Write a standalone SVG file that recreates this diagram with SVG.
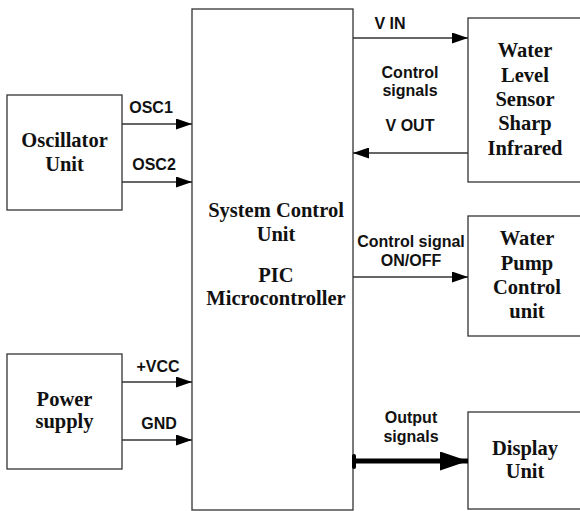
<svg xmlns="http://www.w3.org/2000/svg" width="580" height="511" viewBox="0 0 580 511">
<defs>
<style>
.box{fill:#fff;stroke:#333;stroke-width:1.3}
.ln{stroke:#333;stroke-width:1.3;fill:none}
.nt{font-family:"Liberation Serif","Times New Roman",serif;font-weight:bold;font-size:20.5px;fill:#111;text-anchor:middle}
.lb{font-family:"Liberation Sans",Arial,sans-serif;font-weight:bold;font-size:16px;fill:#111;text-anchor:middle}
</style>
<marker id="ah" markerUnits="userSpaceOnUse" markerWidth="16" markerHeight="11" refX="16" refY="5.5" orient="auto">
<path d="M0,0 L16,5.5 L0,11 z" fill="#000"/>
</marker>
<marker id="ahb" markerUnits="userSpaceOnUse" markerWidth="28" markerHeight="19" refX="28" refY="9.5" orient="auto">
<path d="M0,0 L28,9.5 L0,19 z" fill="#000"/>
</marker>
</defs>
<rect width="580" height="511" fill="#fff"/>

<g id="main">
<rect class="box" x="192" y="9" width="161" height="501"/>
<text class="nt" x="276" y="217">System Control</text>
<text class="nt" x="276" y="241">Unit</text>
<text class="nt" x="276" y="282">PIC</text>
<text class="nt" x="276" y="305">Microcontroller</text>
</g>

<g id="oscillator">
<rect class="box" x="7" y="95" width="115" height="115"/>
<text class="nt" x="64.5" y="147">Oscillator</text>
<text class="nt" x="64.5" y="171">Unit</text>
</g>

<g id="power">
<rect class="box" x="7" y="354" width="115" height="115"/>
<text class="nt" x="64.5" y="406">Power</text>
<text class="nt" x="64.5" y="428">supply</text>
</g>

<g id="sensor">
<rect class="box" x="468" y="18" width="130" height="164"/>
<text class="nt" x="525" y="57">Water</text>
<text class="nt" x="525" y="82">Level</text>
<text class="nt" x="525" y="106">Sensor</text>
<text class="nt" x="525" y="130">Sharp</text>
<text class="nt" x="525" y="155">Infrared</text>
</g>

<g id="pump">
<rect class="box" x="468" y="216" width="130" height="120"/>
<text class="nt" x="527" y="245">Water</text>
<text class="nt" x="527" y="270">Pump</text>
<text class="nt" x="527" y="294">Control</text>
<text class="nt" x="527" y="318">unit</text>
</g>

<g id="display">
<rect class="box" x="468" y="412" width="130" height="97"/>
<text class="nt" x="525" y="455">Display</text>
<text class="nt" x="525" y="478">Unit</text>
</g>

<g id="connectors">
<line class="ln" x1="122" y1="124" x2="192" y2="124" marker-end="url(#ah)"/>
<line class="ln" x1="122" y1="182" x2="192" y2="182" marker-end="url(#ah)"/>
<line class="ln" x1="122" y1="382" x2="192" y2="382" marker-end="url(#ah)"/>
<line class="ln" x1="122" y1="440" x2="192" y2="440" marker-end="url(#ah)"/>
<line class="ln" x1="353" y1="38" x2="468" y2="38" marker-end="url(#ah)"/>
<line class="ln" x1="468" y1="153" x2="353" y2="153" marker-end="url(#ah)"/>
<line class="ln" x1="353" y1="277" x2="468" y2="277" marker-end="url(#ah)"/>
<line x1="354" y1="456" x2="354" y2="467" stroke="#000" stroke-width="4" stroke-linecap="round"/>
<line x1="354" y1="461" x2="468" y2="461" stroke="#000" stroke-width="5" marker-end="url(#ahb)"/>
</g>

<g id="labels">
<text class="lb" x="151" y="113">OSC1</text>
<text class="lb" x="154" y="170">OSC2</text>
<text class="lb" x="158" y="372">+VCC</text>
<text class="lb" x="159" y="429">GND</text>
<text class="lb" x="390" y="29">V IN</text>
<text class="lb" x="410" y="78">Control</text>
<text class="lb" x="410" y="96">signals</text>
<text class="lb" x="410" y="131">V OUT</text>
<text class="lb" x="411" y="247">Control signal</text>
<text class="lb" x="411" y="266">ON/OFF</text>
<text class="lb" x="411" y="423">Output</text>
<text class="lb" x="411" y="442">signals</text>
</g>
</svg>
